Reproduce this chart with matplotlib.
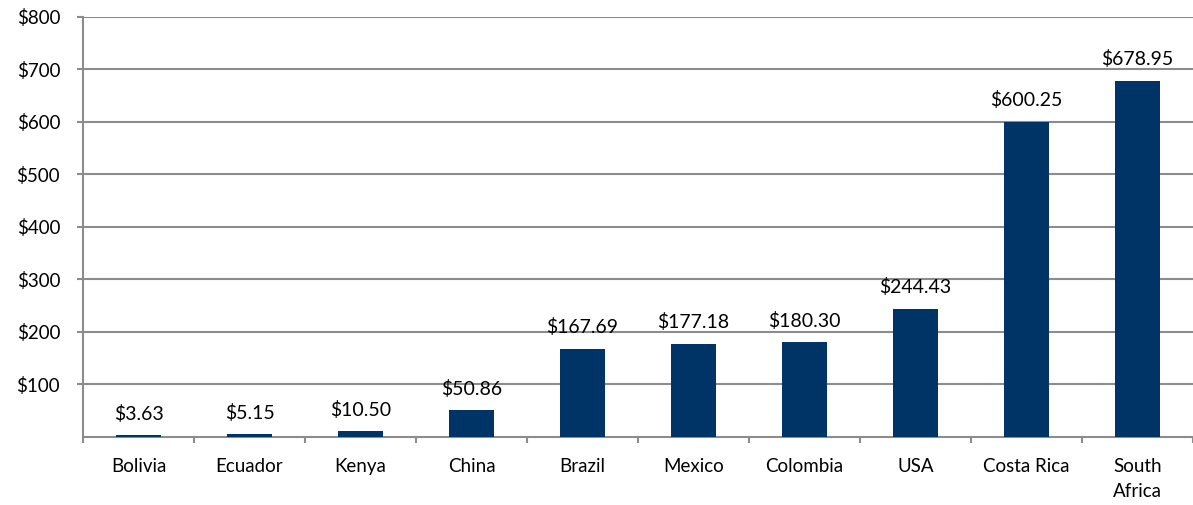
import matplotlib.pyplot as plt
import numpy as np

countries = ["Bolivia", "Ecuador", "Kenya", "China", "Brazil", "Mexico",
             "Colombia", "USA", "Costa Rica", "South\nAfrica"]
values = [3.63, 5.15, 10.50, 50.86, 167.69, 177.18, 180.30, 244.43, 600.25, 678.95]
yticks = [100, 200, 300, 400, 500, 600, 700, 800]

plt.rcParams['font.family'] = ['Lato', 'DejaVu Sans']
grey = '#8c8c8c'

fig = plt.figure(figsize=(11.93, 5.05), dpi=100)
ax = fig.add_axes([0.0696, 0.1347, 0.9304, 0.8317])

x = np.arange(len(countries))
bars = ax.bar(x, values, width=0.41, color='#003366', zorder=3)

for xi, v in zip(x, values):
    ax.annotate('${:.2f}'.format(v), (xi, v), xytext=(0, 9), textcoords='offset points',
                ha='center', va='bottom', fontsize=14)

ax.set_xlim(-0.5, len(countries) - 0.5)
ax.set_ylim(0, 800)
ax.set_yticks(yticks)
ax.set_yticklabels(['${}'.format(t) for t in yticks], fontsize=13.5)
ax.set_xticks(x)
ax.set_xticklabels(countries, fontsize=13.5, linespacing=1.6, va='top')
ax.set_xticks(np.arange(len(countries) + 1) - 0.5, minor=True)

ax.grid(axis='y', color=grey, linewidth=1.5, zorder=0)
ax.tick_params(axis='y', length=4.5, width=1.5, color=grey, pad=12)
ax.tick_params(axis='x', which='major', length=0, pad=15)
ax.tick_params(axis='x', which='minor', length=4.5, width=1.5, color=grey)

for s in ['top', 'right']:
    ax.spines[s].set_visible(False)
for s in ['left', 'bottom']:
    ax.spines[s].set_color(grey)
    ax.spines[s].set_linewidth(1.5)

plt.savefig('out.png', dpi=100)
